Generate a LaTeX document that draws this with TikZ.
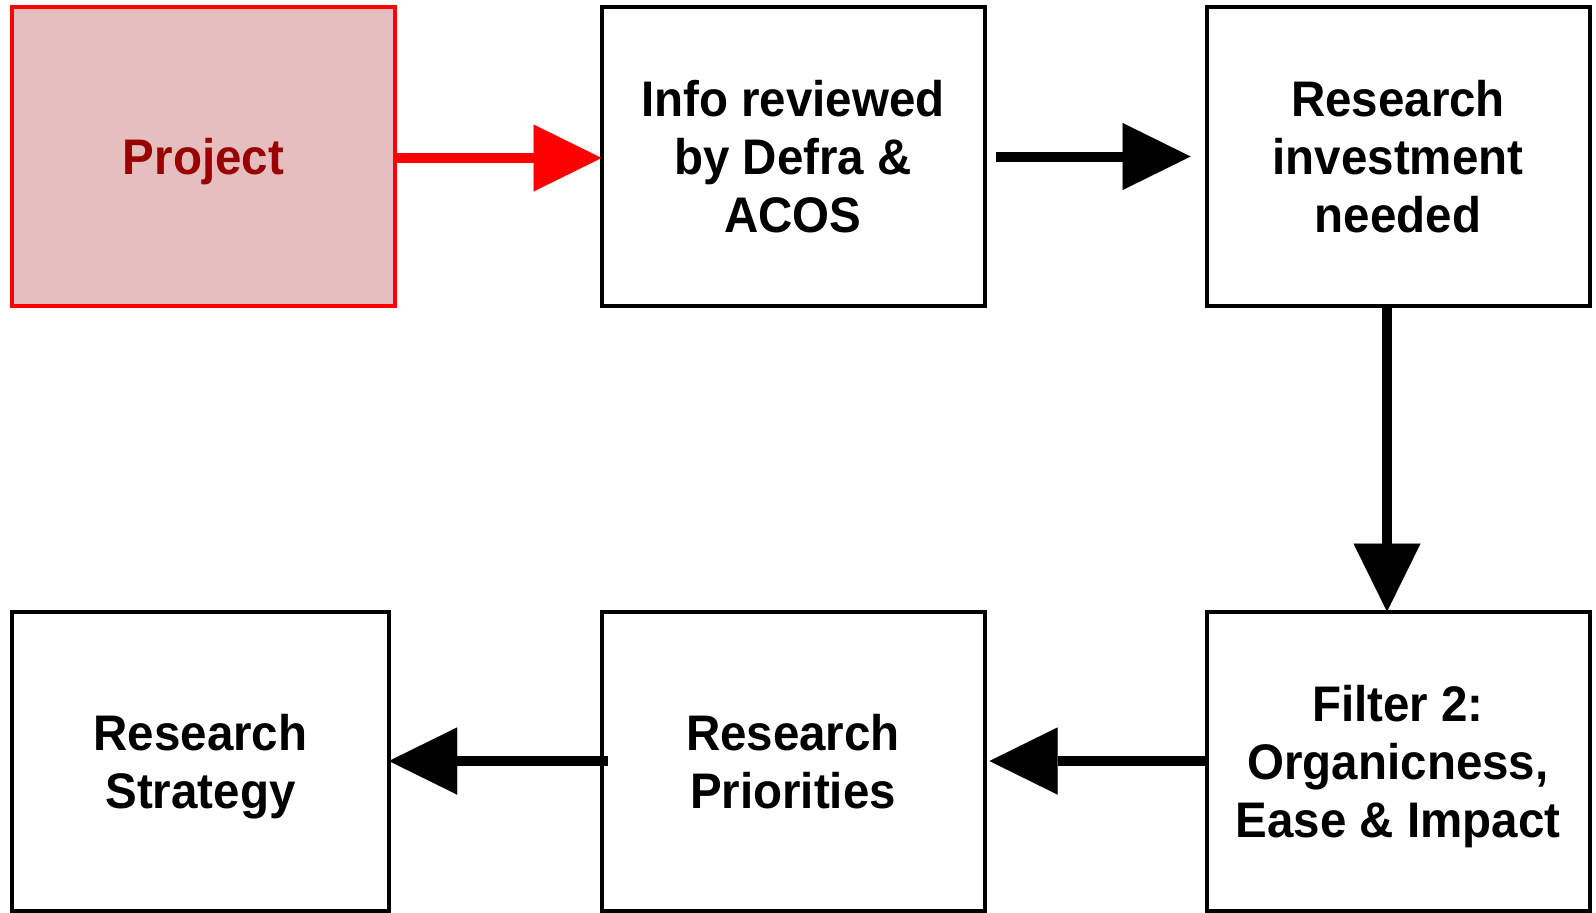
\documentclass[tikz,border=0pt]{standalone}
\usepackage{fontspec}
\setmainfont{Liberation Sans}[FakeStretch=0.95]
\usetikzlibrary{arrows.meta}
\definecolor{projfill}{RGB}{229,191,192}
\definecolor{projtext}{RGB}{153,0,0}
\tikzset{
  box/.style={draw=black, line width=4pt, minimum width=383pt, minimum height=299pt,
    inner sep=0pt, outer sep=0pt, align=center, text depth=-4pt,
    font=\fontsize{50}{58}\selectfont\bfseries},
  projbox/.style={box, draw=red, fill=projfill, text=projtext},
  bigarrow/.style={line width=10pt, -{Triangle[length=68pt,width=67pt,line width=0.01pt]}},
}
\begin{document}
\begin{tikzpicture}[x=1pt,y=-1pt]
\useasboundingbox (0,0) rectangle (1596,913);
\node[projbox] (proj) at (203.5,156.5) {Project};
\node[box] (info) at (793,156.5) {Info reviewed\\by Defra \&\\ACOS};
\node[box] (ri) at (1398,156.5) {Research\\investment\\needed};
\node[box] (filter) at (1398,761) {Filter 2:\\Organicness,\\Ease \& Impact};
\node[box] (prio) at (793,761) {Research\\Priorities};
\node[box, minimum width=377pt] (strat) at (200.5,761) {Research\\Strategy};
\draw[bigarrow, red] ([yshift=-1.5pt]proj.east) -- ([yshift=-1.5pt]info.west);
\draw[bigarrow, shorten <=11pt, shorten >=16pt] (info.east) -- (ri.west);
\draw[bigarrow] ([xshift=-11pt]ri.south) -- ([xshift=-11pt]filter.north);
\draw[bigarrow, shorten >=5pt] (filter.west) -- (prio.east);
\draw[bigarrow, shorten <=-6pt] (prio.west) -- (strat.east);
\end{tikzpicture}
\end{document}
